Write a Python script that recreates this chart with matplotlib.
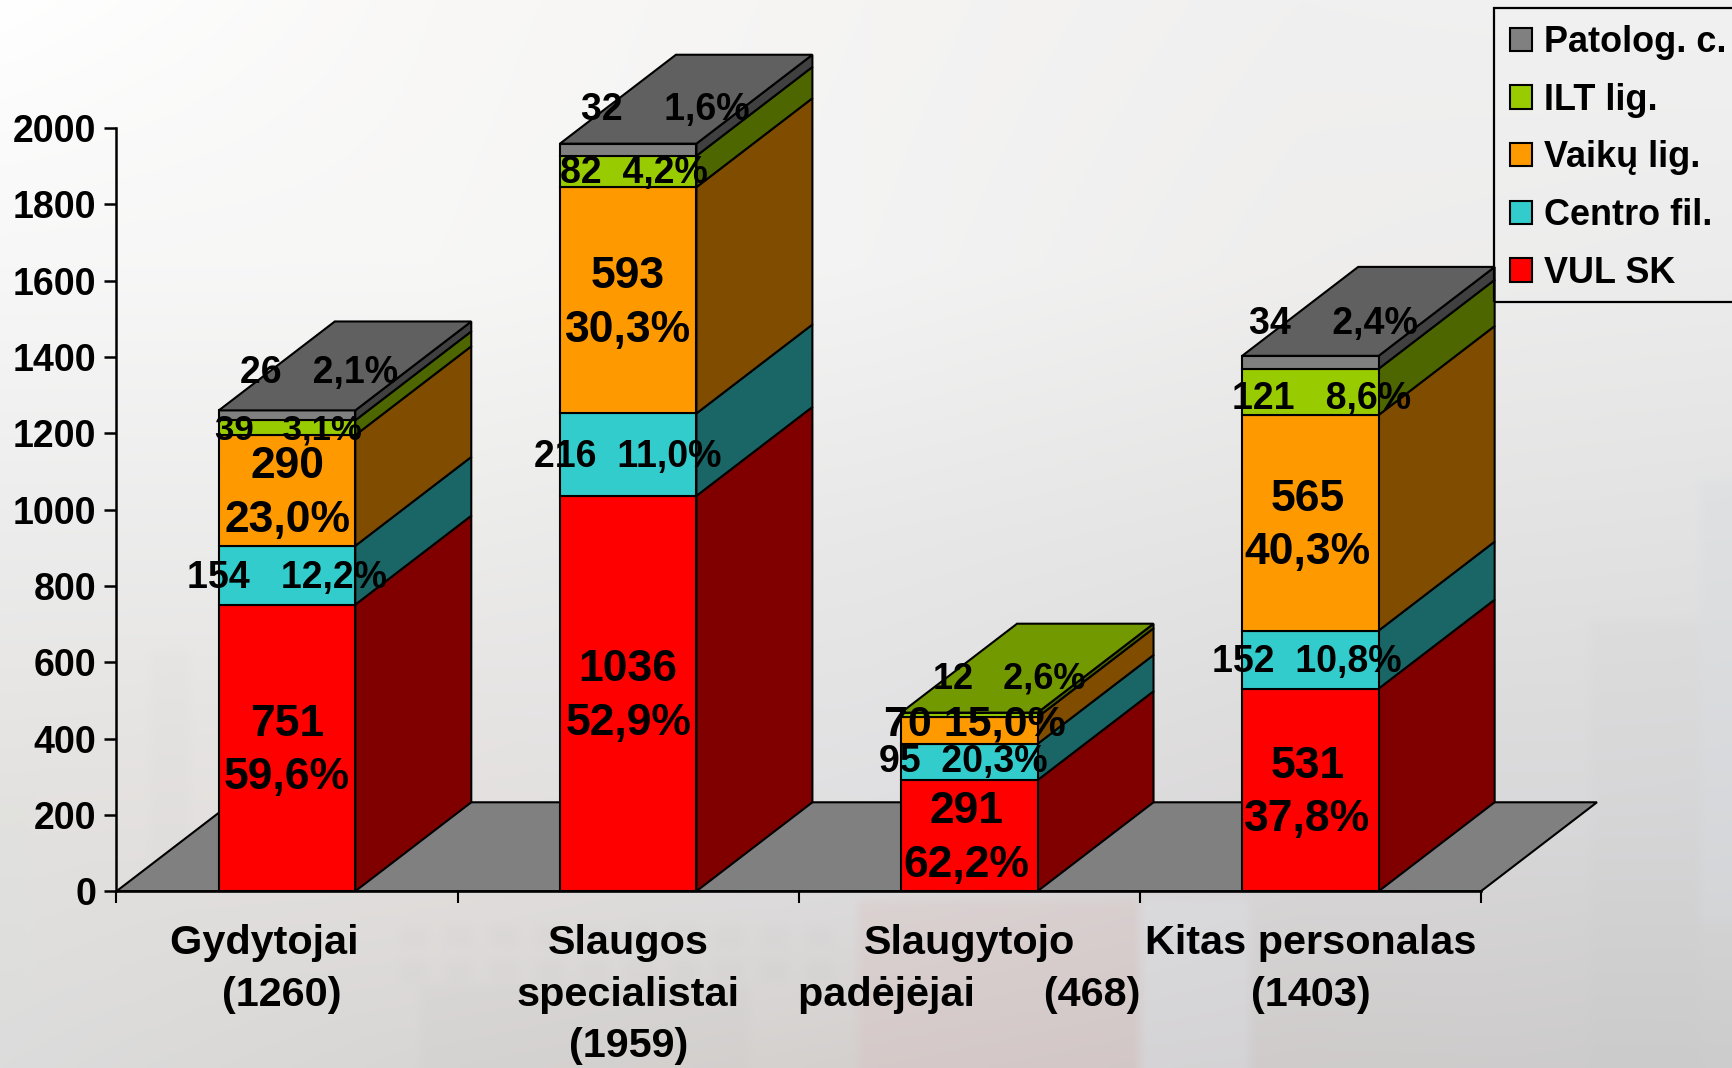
import numpy as np
import matplotlib
matplotlib.use("Agg")
import matplotlib.pyplot as plt
from matplotlib.patches import Polygon, Patch, Rectangle
from matplotlib.colors import to_rgb

W, H, DPI = 1733, 1068, 100
plt.rcParams['font.family'] = ['Liberation Sans', 'DejaVu Sans']
plt.rcParams['font.weight'] = 'bold'

# ---------- data ----------
categories = ["Gydytojai    \n(1260) ", "Slaugos\nspecialistai\n(1959)",
              "Slaugytojo\npadėjėjai      (468)", "Kitas personalas\n(1403)"]
series_names = ["VUL SK", "Centro fil.", "Vaikų lig.", "ILT lig.", "Patolog. c."]
vul_sk = [751, 1036, 291, 531]
centro_fil = [154, 216, 95, 152]
vaiku_lig = [290, 593, 70, 565]
ilt_lig = [39, 82, 12, 121]
patolog = [26, 32, 0, 34]
yticks = list(range(0, 2001, 200))

vul_labels = ["751\n59,6%", "1036\n52,9%", "291\n62,2%", "531\n37,8%"]
centro_labels = ["154   12,2%", "216  11,0%", "95  20,3%", "152  10,8%"]
vaiku_labels = ["290\n23,0%", "593\n30,3%", "70 15,0%", "565\n40,3%"]
ilt_labels = ["39   3,1%", "82  4,2%", "12   2,6%", "121   8,6%"]
patolog_labels = ["26   2,1%", "32    1,6%", "", "34    2,4%"]

# ---------- style ----------
colors = ["#FF0000", "#33CCCC", "#FF9900", "#99CC00", "#808080"]
stack = [vul_sk, centro_fil, vaiku_lig, ilt_lig, patolog]
labels = [vul_labels, centro_labels, vaiku_labels, ilt_labels, patolog_labels]
BAR_W = 0.40
DX, DY = 0.34, 233          # oblique depth in data units
LW = 1.5

# label offsets (px) and sizes (pt), by series then bar
offs = [[(0, 0), (0, 0), (-3, 0), (-3, 0)],
        [(0, 0), (0, 0), (-6, 3), (-4, 0)],
        [(0, 0), (0, 0), (6, 9), (-3, 0)],
        [(1, 0), (6, 1), (40, 38), (11, -5)],
        [(32, 45), (37, 42), (0, 0), (23, 41)]]
sizes = [[32, 32, 32, 32],
         [27, 27, 27, 27],
         [32, 32, 31, 32],
         [25, 27, 26, 27],
         [27, 27, 27, 27]]

fig = plt.figure(figsize=(W / DPI, H / DPI), dpi=DPI)

# ---------- faded background: coarse colour grid, faint patches, blurred ----------
grid = [["#ffffff", "#f9f8f7", "#f5f4f3", "#f1f0f0", "#f1f1f1"],
        ["#f7f7f7", "#f7f7f6", "#f3f3f3", "#efeeed", "#ececec"],
        ["#ececec", "#ececeb", "#e8e8e8", "#e4e4e4", "#e2e2e2"],
        ["#e4e2e0", "#e4e0df", "#e0e0e2", "#dbd9da", "#d8d8da"],
        ["#dcdcdc", "#d8d6d4", "#d4d0ce", "#cfcbcb", "#cccccc"]]
coarse = np.array([[to_rgb(c) for c in row] for row in grid])
rows, cols = np.arange(H), np.arange(W)
u = np.linspace(0, H - 1, coarse.shape[0])
v = np.linspace(0, W - 1, coarse.shape[1])
tmp = np.stack([[np.interp(rows, u, coarse[:, j, c]) for j in range(coarse.shape[1])]
                for c in range(3)], axis=-1)      # (cols, H, 3)
img = np.stack([[np.interp(cols, v, tmp[:, r, c]) for r in range(H)]
                for c in range(3)], axis=-1)      # (H, W, 3)
for x, y, w, h, col, a in [(858, 900, 282, 168, "#d8b8b8", 0.25),
                           (1140, 900, 110, 168, "#dfe3ea", 0.30),
                           (1590, 620, 110, 448, "#c4c4c4", 0.10),
                           (1700, 480, 33, 440, "#d4dade", 0.35),
                           (420, 985, 330, 83, "#b4b4b4", 0.08),
                           (0, 800, 30, 200, "#dce0dc", 0.3),
                           (150, 650, 40, 240, "#c8c8c8", 0.08)]:
    img[y:y + h, x:x + w] = (1 - a) * img[y:y + h, x:x + w] + a * np.array(to_rgb(col))
for gx in range(400, 840, 45):                    # faint façade windows
    for gy in (925, 960):
        img[gy:gy + 22, gx:gx + 28] = 0.94 * img[gy:gy + 22, gx:gx + 28] + 0.06 * 0.7
kernel = np.ones(13) / 13
for c in range(3):
    pad = np.pad(img[:, :, c], 6, mode='edge')
    pad = np.apply_along_axis(lambda m: np.convolve(m, kernel, mode='same'), 0, pad)
    pad = np.apply_along_axis(lambda m: np.convolve(m, kernel, mode='same'), 1, pad)
    img[:, :, c] = pad[6:-6, 6:-6]
bg = fig.add_axes([0, 0, 1, 1], zorder=0)
bg.imshow(img, extent=(0, W, H, 0), aspect='auto', interpolation='nearest')
bg.axis('off')

# ---------- chart axes ----------
x0, x1, y0, y1 = 116.5, 1481, 891.2, 128
ax = fig.add_axes([x0 / W, 1 - y0 / H, (x1 - x0) / W, (y0 - y1) / H], zorder=1)
ax.patch.set_alpha(0)
n = len(categories)
ax.set_xlim(0, n)
ax.set_ylim(0, 2000)
for s in ('top', 'right'):
    ax.spines[s].set_visible(False)
for s in ('left', 'bottom'):
    ax.spines[s].set_linewidth(1.8)
    ax.spines[s].set_zorder(10)

ax.set_yticks(yticks)
ax.tick_params(axis='y', which='major', length=8.5, width=1.8, pad=6, labelsize=27)
ax.set_xticks(range(n + 1))
ax.set_xticklabels([])
ax.tick_params(axis='x', which='major', length=8.5, width=1.5)
ax.set_xticks(np.arange(n) + 0.5, minor=True)
ax.set_xticklabels(categories, minor=True, fontsize=29.8, linespacing=1.46)
ax.tick_params(axis='x', which='minor', length=0, pad=23.5)


def shade(color, f):
    return tuple(v * f for v in to_rgb(color))


# floor
ax.add_patch(Polygon([(0, 0), (n, 0), (n + DX, DY), (DX, DY)], closed=True,
                     fc="#808080", ec='k', lw=LW, clip_on=False, zorder=1))

pos = np.arange(n) + 0.5
bottom = np.zeros(n)
for k, vals in enumerate(stack):
    vals = np.array(vals, float)
    top = bottom + vals
    for i, p in enumerate(pos):
        if vals[i] == 0:
            continue
        r = p + BAR_W / 2
        ax.add_patch(Polygon([(r, bottom[i]), (r + DX, bottom[i] + DY),
                              (r + DX, top[i] + DY), (r, top[i])], closed=True,
                             fc=shade(colors[k], 0.5), ec='k', lw=LW,
                             clip_on=False, zorder=2))
    ax.bar(pos[vals > 0], vals[vals > 0], BAR_W, bottom=bottom[vals > 0],
           color=colors[k], edgecolor='k', linewidth=LW, zorder=3, clip_on=False)
    bottom = top

# top faces: colour of the uppermost non-empty segment
for i, p in enumerate(pos):
    k = max(j for j in range(len(stack)) if stack[j][i] > 0)
    l, r, t = p - BAR_W / 2, p + BAR_W / 2, bottom[i]
    ax.add_patch(Polygon([(l, t), (r, t), (r + DX, t + DY), (l + DX, t + DY)],
                         closed=True, fc=shade(colors[k], 0.75), ec='k', lw=LW,
                         clip_on=False, zorder=4))

# data labels
bottom = np.zeros(n)
for k, vals in enumerate(stack):
    for i, p in enumerate(pos):
        if vals[i] == 0:
            continue
        txt = labels[k][i]
        dx, dy = offs[k][i]
        dy -= 3 if '\n' in txt else 2.5
        ax.annotate(txt, xy=(p, bottom[i] + vals[i] / 2),
                    xytext=(dx, dy), textcoords='offset pixels',
                    ha='center', va='center', ma='center', fontsize=sizes[k][i],
                    fontweight='bold', linespacing=1.39, zorder=20,
                    annotation_clip=False)
    bottom = bottom + np.array(vals)

# legend: frameless entries plus a box that runs off the right edge
order = list(range(len(series_names)))[::-1]
handles = [Patch(fc=colors[j], ec='k', lw=LW, label=series_names[j]) for j in order]
leg = fig.legend(handles=handles, loc='upper left',
                 bbox_to_anchor=(1492 / W, 1 - 7 / H), bbox_transform=fig.transFigure,
                 prop={'family': 'Liberation Sans', 'weight': 'bold', 'size': 25.9},
                 frameon=False, borderpad=0.5, labelspacing=0.63, handlelength=0.62,
                 handleheight=0.62, handletextpad=0.33, borderaxespad=0)
leg.set_zorder(30)
fig.add_artist(Rectangle((1494 / W, 1 - 302 / H), 300 / W, 294 / H,
                         transform=fig.transFigure, fc='none', ec='k', lw=1.6,
                         zorder=30))

fig.savefig("out.png", dpi=DPI)
